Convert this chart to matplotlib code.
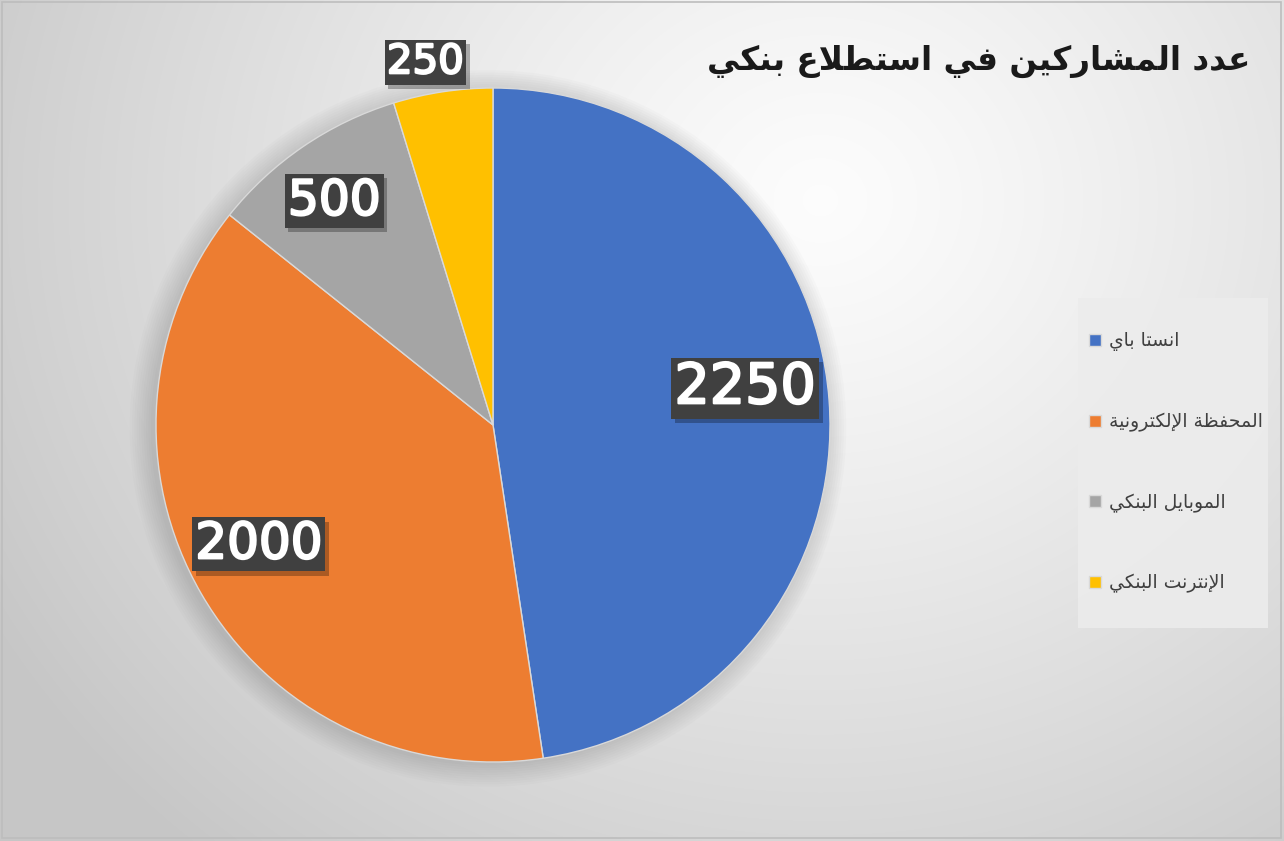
import numpy as np
import matplotlib
matplotlib.use("Agg")
import matplotlib.pyplot as plt
from matplotlib.patches import Rectangle
import matplotlib.patheffects as pe

# ---------------- data ----------------
title = "عدد المشاركين في استطلاع بنكي"
categories = ["انستا باي", "المحفظة الإلكترونية", "الموبايل البنكي", "الإنترنت البنكي"]
# slice sizes as drawn in the picture (the blue slice is drawn larger than its label)
values = [2500, 2000, 500, 250]
# data label texts as shown in the picture
value_labels = ["2250", "2000", "500", "250"]
colors = ["#4472C4", "#ED7D31", "#A5A5A5", "#FFC000"]

# label placement style (radius in pie units, angle offset in degrees, font size)
label_radius = [0.756, 0.78, 0.815, 1.095]
label_angle_offset = [4, -3, 1, 2]
label_size = [40, 36, 35, 29]

# ---------------- minimal Arabic shaping ----------------
FORMS = {
    '\u0627': ('\uFE8D', '\uFE8E', None, None),
    '\u0625': ('\uFE87', '\uFE88', None, None),
    '\u0623': ('\uFE83', '\uFE84', None, None),
    '\u0622': ('\uFE81', '\uFE82', None, None),
    '\u0628': ('\uFE8F', '\uFE90', '\uFE91', '\uFE92'),
    '\u0629': ('\uFE93', '\uFE94', None, None),
    '\u062A': ('\uFE95', '\uFE96', '\uFE97', '\uFE98'),
    '\u062D': ('\uFEA1', '\uFEA2', '\uFEA3', '\uFEA4'),
    '\u062F': ('\uFEA9', '\uFEAA', None, None),
    '\u0631': ('\uFEAD', '\uFEAE', None, None),
    '\u0633': ('\uFEB1', '\uFEB2', '\uFEB3', '\uFEB4'),
    '\u0634': ('\uFEB5', '\uFEB6', '\uFEB7', '\uFEB8'),
    '\u0637': ('\uFEC1', '\uFEC2', '\uFEC3', '\uFEC4'),
    '\u0638': ('\uFEC5', '\uFEC6', '\uFEC7', '\uFEC8'),
    '\u0639': ('\uFEC9', '\uFECA', '\uFECB', '\uFECC'),
    '\u0641': ('\uFED1', '\uFED2', '\uFED3', '\uFED4'),
    '\u0643': ('\uFED9', '\uFEDA', '\uFEDB', '\uFEDC'),
    '\u0644': ('\uFEDD', '\uFEDE', '\uFEDF', '\uFEE0'),
    '\u0645': ('\uFEE1', '\uFEE2', '\uFEE3', '\uFEE4'),
    '\u0646': ('\uFEE5', '\uFEE6', '\uFEE7', '\uFEE8'),
    '\u0648': ('\uFEED', '\uFEEE', None, None),
    '\u064A': ('\uFEF1', '\uFEF2', '\uFEF3', '\uFEF4'),
    '\uFEFB': ('\uFEFB', '\uFEFC', None, None),
    '\uFEF9': ('\uFEF9', '\uFEFA', None, None),
    '\uFEF7': ('\uFEF7', '\uFEF8', None, None),
    '\uFEF5': ('\uFEF5', '\uFEF6', None, None),
}
LAM_ALEF = {'\u0627': '\uFEFB', '\u0625': '\uFEF9', '\u0623': '\uFEF7', '\u0622': '\uFEF5'}


def shape(s):
    chars = []
    i = 0
    while i < len(s):
        c = s[i]
        if c == '\u0644' and i + 1 < len(s) and s[i + 1] in LAM_ALEF:
            chars.append(LAM_ALEF[s[i + 1]])
            i += 2
        else:
            chars.append(c)
            i += 1
    out = []
    for k, c in enumerate(chars):
        if c not in FORMS:
            out.append(c)
            continue
        f = FORMS[c]
        prev = chars[k - 1] if k > 0 else None
        nxt = chars[k + 1] if k + 1 < len(chars) else None
        jp = prev in FORMS and FORMS[prev][2] is not None
        jn = f[2] is not None and nxt in FORMS
        if jp and jn:
            out.append(f[3])
        elif jp:
            out.append(f[1])
        elif jn:
            out.append(f[2])
        else:
            out.append(f[0])
    return ''.join(reversed(out))


# ---------------- figure ----------------
W, H = 1284, 841
fig = plt.figure(figsize=(W / 100, H / 100), dpi=100)

# background radial gradient
bg = fig.add_axes([0, 0, 1, 1], zorder=0)
yy, xx = np.mgrid[0:H, 0:W]
d = np.hypot((xx - 820) / 1.0, (yy - 200) / 0.9)
t = np.clip(d / 950.0, 0, 1)
g = 0.99 - (0.99 - 0.78) * t ** 1.2
img = np.dstack([g, g, g])
bg.imshow(img, extent=[0, W, H, 0], aspect='auto')
bg.set_xlim(0, W)
bg.set_ylim(H, 0)
bg.axis('off')
bg.add_patch(Rectangle((2, 2), W - 5, H - 5, fill=False, ec='#bdbdbd', lw=1.2))

# pie axes
cx, cy, R = 493, 425, 337
ax = fig.add_axes([(cx - R) / W, (H - cy - R) / H, 2 * R / W, 2 * R / H], zorder=2)
ax.patch.set_alpha(0)

# soft shadow
for k in range(10):
    ax.add_patch(plt.Circle((-0.015, -0.01), 1.0 + 0.007 * k, color='#6e6e6e',
                            alpha=0.028, lw=0, zorder=0, clip_on=False))

wedges, _ = ax.pie(values, colors=colors, startangle=90, counterclock=False,
                   radius=1.0, wedgeprops=dict(edgecolor='#d9d9d9', linewidth=1.0))
for w in wedges:
    w.set_clip_on(False)
ax.set_xlim(-1, 1)
ax.set_ylim(-1, 1)
ax.set_aspect('equal')
ax.axis('off')

for w, lab, r, off, fs in zip(wedges, value_labels, label_radius, label_angle_offset, label_size):
    ang = np.deg2rad((w.theta1 + w.theta2) / 2 + off)
    x, y = r * np.cos(ang), r * np.sin(ang)
    t = ax.text(x, y, lab, ha='center', va='center', fontsize=fs, color='white',
                family='DejaVu Sans', zorder=5,
                bbox=dict(boxstyle='square,pad=0.06', fc='#404040', ec='none'),
                clip_on=False,
                path_effects=[pe.withStroke(linewidth=1.6, foreground='white')])
    t.get_bbox_patch().set_path_effects([
        pe.SimplePatchShadow(offset=(2.5, -3), shadow_rgbFace='#000000', alpha=0.28),
        pe.Normal()])

# title
fig.text(1250 / W, 1 - 61 / H, shape(title), ha='right', va='center',
         fontsize=23.5, fontweight='bold', family='DejaVu Sans', color='#1a1a1a', zorder=5)

# legend background
fig.patches.append(Rectangle((1078 / W, 1 - 628 / H), 190 / W, 330 / H,
                             transform=fig.transFigure, fc='#ececec', ec='none',
                             alpha=0.9, zorder=1))
leg = fig.legend(wedges, [shape(c) for c in categories], loc='upper left',
                 bbox_to_anchor=(1080 / W, 1 - 322 / H), frameon=False,
                 handlelength=0.62, handleheight=0.62,
                 handletextpad=0.45, labelspacing=3.25, borderpad=0,
                 prop=dict(family='DejaVu Sans', size=13.5))
for txt in leg.get_texts():
    txt.set_color('#404040')
leg.set_zorder(6)

fig.savefig('out.png', dpi=100)
